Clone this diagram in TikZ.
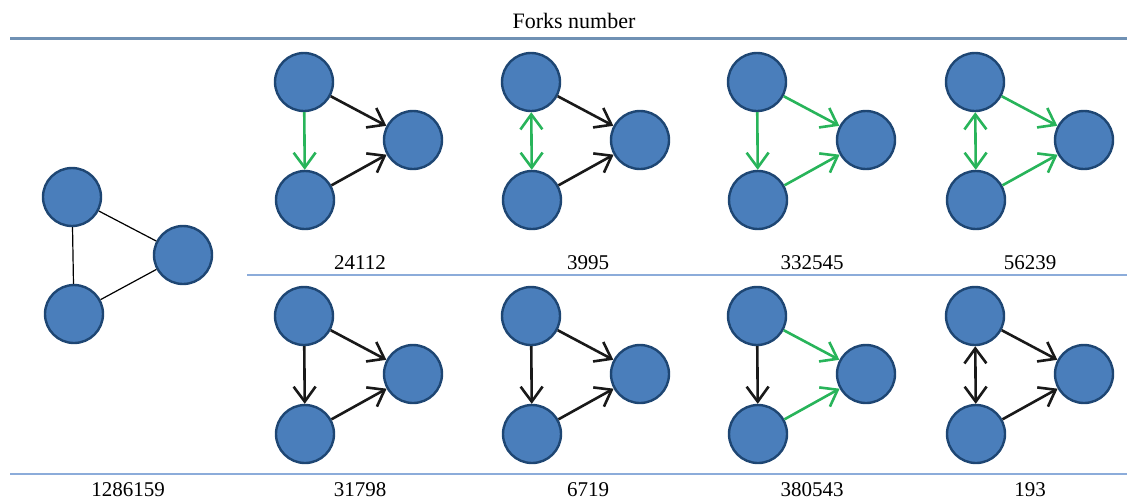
\documentclass[tikz,border=0pt]{standalone}
\usepackage{fontspec}
\setmainfont{Liberation Serif}
\usetikzlibrary{arrows.meta}
\definecolor{nodeblue}{RGB}{74,126,187}
\definecolor{nodeborder}{RGB}{30,70,115}
\definecolor{forkgreen}{RGB}{40,180,90}
\definecolor{rulesteel}{RGB}{112,145,180}
\definecolor{rulelight}{RGB}{140,172,218}

\begin{document}
\begin{tikzpicture}[x=0.5pt,y=-0.5pt,
    Vertex/.style={circle, draw=nodeborder, fill=nodeblue, line width=1.2pt,
                minimum size=29pt, inner sep=0pt},
    Plain/.style={draw=black, line width=0.6pt},
    Fork/.style={draw=black!90, line width=1.3pt,
                -{Straight Barb[length=7.5pt,width=11pt]}},
    GreenFork/.style={Fork, draw=forkgreen},
    Mutual/.style={Fork, {Straight Barb[length=7.5pt,width=11pt]}-{Straight Barb[length=7.5pt,width=11pt]}},
    GreenMutual/.style={Mutual, draw=forkgreen},
    Count/.style={font=\fontsize{10.5}{13}\selectfont},
  ]
\useasboundingbox (0,0) rectangle (1127,500);

% rules and heading
\node[Count, font=\fontsize{11}{13}\selectfont] (title) at (574,21) {Forks number};
\coordinate (topL) at (10,38);   \coordinate (topR) at (1127,38);
\coordinate (midL) at (247,275); \coordinate (midR) at (1127,275);
\coordinate (botL) at (10,474);  \coordinate (botR) at (1127,474);
\draw[rulesteel, line width=1.5pt] (topL) -- (topR);
\draw[rulelight, line width=0.8pt] (midL) -- (midR);
\draw[rulelight, line width=0.8pt] (botL) -- (botR);

% undirected triangle
\node[Vertex] (a) at (72,197) {};
\node[Vertex] (b) at (183,255) {};
\node[Vertex] (c) at (74,314) {};
\draw[Plain] (a) -- (b) (b) -- (c) (c) -- (a);
\node[Count] (n0) at (128,490) {1286159};

% the eight fork patterns
\foreach \c/\cx in {1/304,2/531,3/757,4/975}{
  \foreach \r/\dy in {1/0,2/234}{
    \node[Vertex] (t\c\r) at (\cx,82+\dy) {};
    \node[Vertex] (b\c\r) at (\cx+1,200+\dy) {};
    \node[Vertex] (r\c\r) at (\cx+109,140+\dy) {};
  }
}

\draw[GreenFork] (t11) -- (b11);
\draw[Fork] (t11) -- (r11);
\draw[Fork] (b11) -- (r11);

\draw[GreenMutual] (t21) -- (b21);
\draw[Fork] (t21) -- (r21);
\draw[Fork] (b21) -- (r21);

\draw[GreenFork] (t31) -- (b31);
\draw[GreenFork] (t31) -- (r31);
\draw[GreenFork] (b31) -- (r31);

\draw[GreenMutual] (t41) -- (b41);
\draw[GreenFork] (t41) -- (r41);
\draw[GreenFork] (b41) -- (r41);

\draw[Fork] (t12) -- (b12);
\draw[Fork] (t12) -- (r12);
\draw[Fork] (b12) -- (r12);

\draw[Fork] (t22) -- (b22);
\draw[Fork] (t22) -- (r22);
\draw[Fork] (b22) -- (r22);

\draw[Fork] (t32) -- (b32);
\draw[GreenFork] (t32) -- (r32);
\draw[GreenFork] (b32) -- (r32);

\draw[Mutual] (t42) -- (b42);
\draw[Fork] (t42) -- (r42);
\draw[Fork] (b42) -- (r42);

\node[Count] (n11) at (360,263) {24112};
\node[Count] (n21) at (588,263) {3995};
\node[Count] (n31) at (812,263) {332545};
\node[Count] (n41) at (1030,263) {56239};
\node[Count] (n12) at (360,490) {31798};
\node[Count] (n22) at (588,490) {6719};
\node[Count] (n32) at (812,490) {380543};
\node[Count] (n42) at (1030,490) {193};
\end{tikzpicture}
\end{document}
